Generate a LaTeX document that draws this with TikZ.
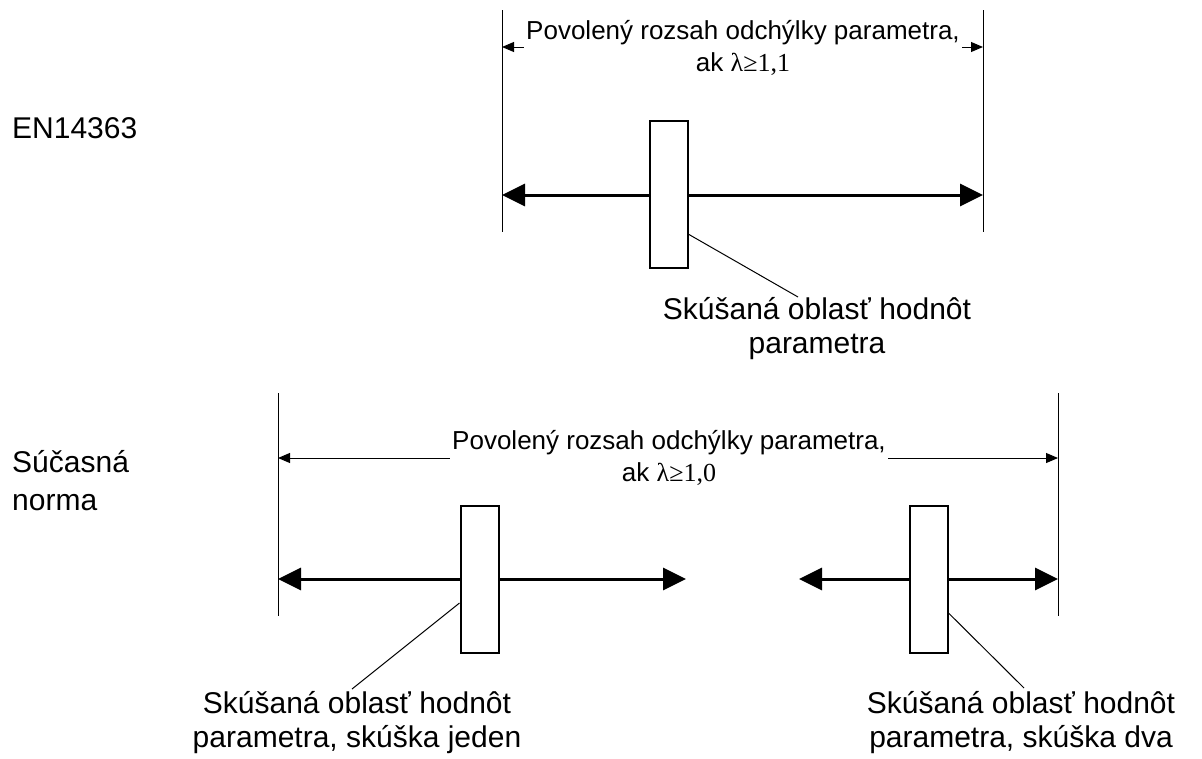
\documentclass[tikz,border=0pt]{standalone}
\usepackage{fontspec}
\setmainfont{Liberation Sans}
\newfontfamily\lserif{Liberation Serif}
\usetikzlibrary{arrows.meta}
\tikzstyle{dimhead}=[>/.tip={Triangle[length=12pt,width=10pt]}]
\tikzstyle{dimline}=[line width=1pt,dimhead,<->]
\tikzstyle{spanhead}=[>/.tip={Triangle[length=23pt,width=22pt]}]
\tikzstyle{spanline}=[line width=3pt,spanhead,<->]
\tikzstyle{extline}=[line width=.8pt]
\tikzstyle{leadline}=[line width=1pt]
\tikzstyle{probe}=[draw,line width=2pt,fill=white,minimum width=38pt,minimum height=147pt,inner sep=0pt]
\tikzstyle{dimtxt}=[fill=white,inner xsep=2pt,inner ysep=0pt,align=center,anchor=base,font=\fontsize{26}{32}\selectfont]
\tikzstyle{probetxt}=[inner sep=0pt,align=center,anchor=base,font=\fontsize{30}{34}\selectfont]
\tikzstyle{normtxt}=[inner sep=0pt,align=left,anchor=base west,font=\fontsize{30}{38}\selectfont]
\newcommand\lam[1]{{\lserif λ≥#1}}

\begin{document}
\begin{tikzpicture}[x=1pt,y=-1pt]
	\useasboundingbox (0,0) rectangle (1202,758);
	\node[normtxt] (En) at (12,138) {EN14363};
	\node[normtxt] (Sn) at (12,510) {Súčasná\\norma};
	% EN14363
	\coordinate (A1) at (502,10);  \coordinate (A2) at (502,232);
	\coordinate (B1) at (983,10);  \coordinate (B2) at (983,232);
	\draw[extline] (A1) -- (A2);
	\draw[extline] (B1) -- (B2);
	\coordinate (Da) at (502,47);  \coordinate (Db) at (983,47);
	\draw[dimline] (Da) -- (Db);
	\node[dimtxt] (D1) at (743,71) {Povolený rozsah odchýlky parametra,\\ak \lam{1,1}};
	\coordinate (Ra) at (502,195); \coordinate (Rb) at (983,195);
	\draw[spanline] (Ra) -- (Rb);
	\node[probe] (P1) at (669,194) {};
	\node[probetxt] (S1) at (817,353) {Skúšaná oblasť hodnôt\\parametra};
	\coordinate (L1) at (798,297);
	\draw[leadline] ([yshift=34pt]P1.south east) -- (L1);
	% Sucasna norma
	\coordinate (C1) at (278,393);  \coordinate (C2) at (278,616);
	\coordinate (E1) at (1058,393); \coordinate (E2) at (1058,616);
	\draw[extline] (C1) -- (C2);
	\draw[extline] (E1) -- (E2);
	\coordinate (Dc) at (278,458);  \coordinate (Dd) at (1058,458);
	\draw[dimline] (Dc) -- (Dd);
	\node[dimtxt] (D2) at (669,481) {Povolený rozsah odchýlky parametra,\\ak \lam{1,0}};
	\coordinate (Rc) at (278,579); \coordinate (Rd) at (686,579);
	\coordinate (Re) at (799,579); \coordinate (Rf) at (1058,579);
	\draw[spanline] (Rc) -- (Rd);
	\draw[spanline] (Re) -- (Rf);
	\node[probe] (P2) at (479.5,579) {};
	\node[probe] (P3) at (928.5,579) {};
	\node[probetxt] (S2) at (357,747) {Skúšaná oblasť hodnôt\\parametra, skúška jeden};
	\node[probetxt] (S3) at (1021,747) {Skúšaná oblasť hodnôt\\parametra, skúška dva};
	\coordinate (L2) at (352,689);
	\coordinate (L3) at (1024,688);
	\draw[leadline] ([yshift=-24pt]P2.west) -- (L2);
	\draw[leadline] ([yshift=-34pt]P3.east) -- (L3);
\end{tikzpicture}
\end{document}
